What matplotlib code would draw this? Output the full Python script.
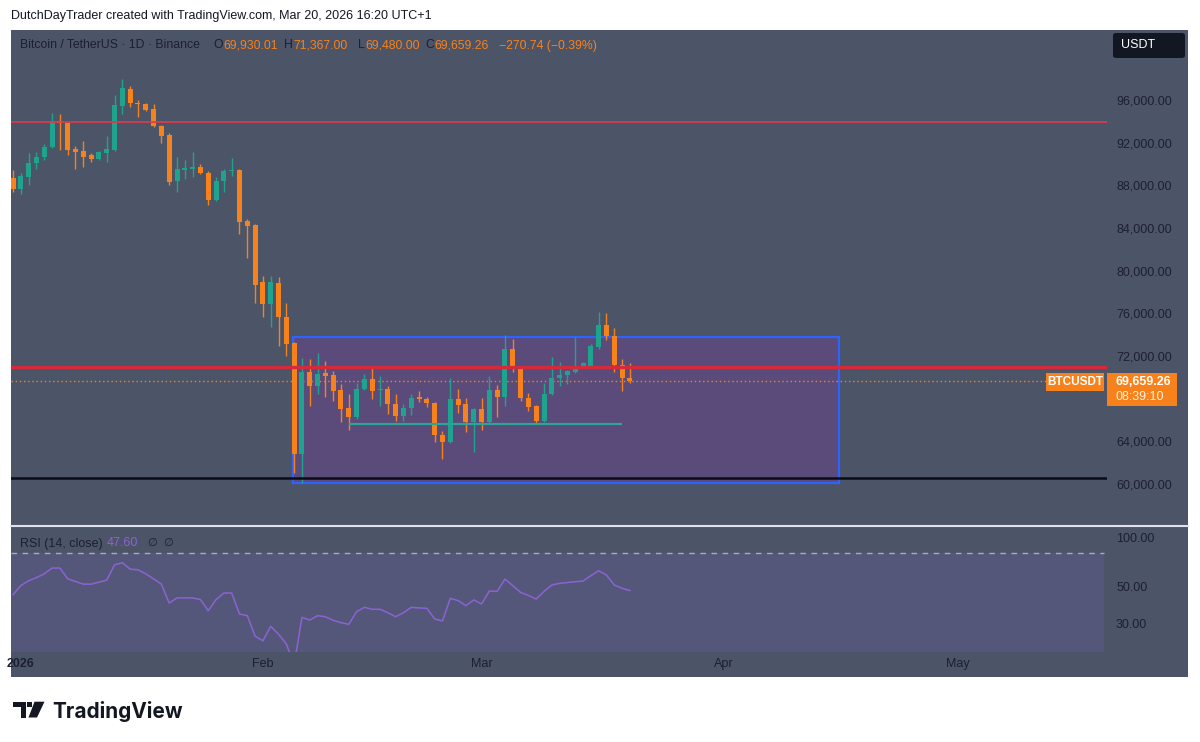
import numpy as np
import pandas as pd
import matplotlib
matplotlib.use("Agg")
import matplotlib.pyplot as plt
import matplotlib.dates as mdates
from matplotlib.patches import Rectangle, Polygon, FancyBboxPatch
from matplotlib.lines import Line2D
from matplotlib.ticker import FixedLocator, NullLocator, NullFormatter

# BTCUSDT daily candles, 31 Dec 2025 -> 20 Mar 2026
start_date = "2025-12-31"
opens = [88700, 87700, 88800, 90100, 90700, 91600, 94000, 93800, 91400, 91200,
         90800, 90500, 91000, 91300, 95400, 97000, 95700, 95600, 95200, 93600,
         92700, 88400, 89400, 89500, 89700, 89200, 86600, 88400, 89300, 89400,
         84700, 84300, 78900, 76900, 78800, 75700, 73200, 62800, 70500, 69200,
         70400, 70200, 68800, 67100, 66300, 68900, 69800, 68800, 68900, 67500,
         66400, 67100, 68200, 68000, 67600, 64600, 63900, 68000, 67500, 65800,
         67000, 65800, 68800, 68200, 72700, 70800, 68100, 67300, 65900, 68400,
         69900, 70200, 70500, 71000, 71100, 72800, 74900, 73900, 71200, 69930.01]
highs = [89400, 89200, 91000, 91100, 91900, 94800, 94700, 93900, 91700, 92200,
         91000, 91200, 92600, 96500, 98000, 97300, 96000, 95700, 95600, 93700,
         92900, 90700, 90400, 91100, 90000, 89300, 88800, 89500, 90600, 89500,
         84800, 84400, 79500, 79500, 79400, 77000, 73300, 71800, 71700, 72300,
         71500, 70600, 69400, 68400, 69500, 70300, 71000, 70100, 69200, 68400,
         67500, 68400, 68700, 68200, 67700, 65000, 69900, 68900, 68100, 67100,
         68100, 70100, 69300, 74000, 73600, 70900, 68500, 67400, 69500, 71900,
         71400, 70700, 73800, 71400, 73100, 76100, 76000, 74600, 71700, 71367.00]
lows = [87400, 87200, 88000, 89500, 90400, 91500, 91300, 90800, 89500, 89700,
        90200, 90400, 90200, 91200, 94700, 95300, 94400, 95000, 93500, 92000,
        88000, 87400, 88600, 88800, 89100, 86200, 86500, 87400, 88900, 83400,
        81200, 77000, 75700, 74700, 72900, 72000, 61000, 60100, 67300, 68400,
        68200, 67800, 65800, 65100, 66100, 68800, 68000, 67300, 66600, 65900,
        65900, 66500, 67700, 67200, 63900, 62300, 63800, 66700, 64900, 63000,
        65100, 65600, 66300, 67300, 70500, 67800, 66800, 65700, 65800, 68300,
        69200, 69400, 70400, 70900, 71000, 72700, 73500, 70500, 68700, 69480.00]
closes = [87700, 88900, 90100, 90700, 91600, 94000, 93800, 91300, 91100, 90700,
          90500, 91100, 91400, 95500, 97100, 95700, 95600, 95100, 93600, 92600,
          88300, 89500, 89600, 89700, 89200, 86600, 88400, 89300, 89400, 84600,
          84200, 78700, 76900, 78900, 75700, 73100, 62800, 70500, 69200, 70300,
          70100, 68700, 67000, 66300, 68900, 69800, 68700, 68900, 67500, 66400,
          67100, 68100, 68000, 67600, 64600, 63900, 68000, 67400, 65800, 67000,
          65800, 68800, 68200, 72700, 70800, 68100, 67200, 65900, 68400, 69900,
          70200, 70600, 71000, 71300, 72900, 74900, 73900, 71200, 69900, 69659.26]

# RSI(14, close)
rsi = [45, 51, 54.5, 57, 60, 65, 65, 56, 54, 52,
       52, 53.5, 55, 68, 70, 64, 63.5, 60, 56, 52,
       40, 43, 43, 43, 42, 36, 42, 46, 46, 34.4,
       33.6, 25.3, 23.7, 29, 26, 22.7, 17, 32.8, 31.6, 33.6,
       33.1, 31.5, 30.5, 29.8, 35.5, 37.7, 36.7, 36.7, 35, 33.1,
       35, 37.7, 37.4, 37.2, 32.1, 31.2, 42.7, 41.4, 38.6, 41.8,
       39.5, 47.3, 47, 55.8, 51, 46.4, 44.5, 42.3, 47, 51.4,
       52.6, 53.2, 53.8, 54.3, 58.5, 62.7, 59, 51.4, 49.1, 47.6]

price_ticks = [60000, 64000, 72000, 76000, 80000, 84000, 88000, 92000, 96000]
rsi_ticks = [30, 50, 100]
month_ticks = ["2026-01-01", "2026-02-01", "2026-03-01", "2026-04-01", "2026-05-01"]
month_labels = ["2026", "Feb", "Mar", "Apr", "May"]

resistance_top = 93950
resistance_mid = 71000
support_low = 60600
range_start, range_end = "2026-02-05", "2026-04-16"
range_top, range_bottom = 73800, 60100
floor_start, floor_end, floor_level = "2026-02-12", "2026-03-19", 65600
last_price = 69659.26

BG = "#4c5468"
UP = "#1fa38e"
DOWN = "#f7821b"
TXT = "#1c2030"
FONT = ["Liberation Sans", "DejaVu Sans"]
plt.rcParams["font.family"] = FONT

W, H = 1200, 742


def fx(px):
    return px / W


def fy(py):
    return 1 - py / H


fig = plt.figure(figsize=(12, 7.42), dpi=100, facecolor="white")
fig.add_artist(Rectangle((fx(11), fy(677)), fx(1188) - fx(11), fy(30) - fy(677),
                         transform=fig.transFigure, facecolor=BG, edgecolor="none", zorder=-5))
fig.add_artist(Line2D([fx(11), fx(1188)], [fy(526), fy(526)], color="#dfe2ea", lw=1.5))

dates = pd.date_range(start_date, periods=len(closes), freq="D")
x = mdates.date2num(dates)
x0 = mdates.date2num(pd.Timestamp(start_date))
xlim = (x0 - 0.26, x0 + 140.1)

o = np.array(opens)
c = np.array(closes)
colors = [UP if cc >= oo else DOWN for oo, cc in zip(o, c)]

# main price pane
ax = fig.add_axes([fx(11), fy(525), fx(1107) - fx(11), fy(30) - fy(525)])
ax.set_facecolor("none")
ax.set_xlim(*xlim)
ax.set_ylim(56156, 102562)

rs = mdates.date2num(pd.Timestamp(range_start)) - 0.1
re_ = mdates.date2num(pd.Timestamp(range_end)) - 0.25
ax.add_patch(Rectangle((rs, range_bottom), re_ - rs, range_top - range_bottom,
                       facecolor="#5b4b7a", edgecolor="#2f63ff", lw=1.6, zorder=1))

ax.vlines(x, lows, highs, colors=colors, lw=1, zorder=3)
ax.bar(x, np.maximum(np.abs(c - o), 90), bottom=np.minimum(o, c), width=0.64,
       color=colors, edgecolor="none", zorder=3)

ax.axhline(resistance_top, color="#e0394d", lw=1.2, zorder=4)
ax.axhline(resistance_mid, color="#d32a3c", lw=2.4, zorder=4)
ax.axhline(support_low, color="#0b0d16", lw=1.8, zorder=4)
fs = mdates.date2num(pd.Timestamp(floor_start))
fe = mdates.date2num(pd.Timestamp(floor_end))
ax.hlines(floor_level, fs, fe, color="#2aa596", lw=1.6, zorder=4)
ax.axhline(last_price, xmax=(1046 - 11) / 1096, color=DOWN, lw=1, ls=(0, (1, 2)), zorder=2)

ax.yaxis.tick_right()
ax.yaxis.set_major_locator(FixedLocator(price_ticks))
ax.set_yticklabels([f"{t:,.2f}" for t in price_ticks])
ax.tick_params(axis="y", length=0, pad=6.5, labelsize=9, labelcolor=TXT)
ax.tick_params(axis="x", bottom=False, labelbottom=False)
for s in ax.spines.values():
    s.set_visible(False)

# RSI pane
ar = fig.add_axes([fx(11), fy(652), fx(1107) - fx(11), fy(527) - fy(652)])
ar.set_facecolor("none")
ar.set_yscale("log")
ar.set_xlim(*xlim)
ar.set_ylim(20.3, 114.9)
ar.axhspan(20, 80, xmax=(1104 - 11) / 1096, color="#55577a", lw=0, zorder=1)
ar.axhline(80, xmax=(1104 - 11) / 1096, color="#a9adba", lw=1, ls=(0, (4, 4)), zorder=2)
ar.plot(x, rsi, color="#8a63d2", lw=1.1, zorder=3)
ar.yaxis.tick_right()
ar.yaxis.set_major_locator(FixedLocator(rsi_ticks))
ar.yaxis.set_minor_locator(NullLocator())
ar.yaxis.set_minor_formatter(NullFormatter())
ar.set_yticklabels([f"{t:.2f}" for t in rsi_ticks])
ar.tick_params(axis="y", length=0, pad=6.5, labelsize=9, labelcolor=TXT)
ar.set_xticks(mdates.date2num(pd.to_datetime(month_ticks)))
ar.set_xticklabels(month_labels)
ar.tick_params(axis="x", length=0, pad=4, labelsize=9, labelcolor=TXT)
ar.get_xticklabels()[0].set_fontweight("bold")
for s in ar.spines.values():
    s.set_visible(False)

# header texts
fig.text(fx(11), fy(16), "DutchDayTrader created with TradingView.com, Mar 20, 2026 16:20 UTC+1",
         fontsize=9, color="#131722", va="center")
fig.text(fx(20), fy(45.5), "Bitcoin / TetherUS · 1D · Binance", fontsize=8.8, color=TXT, va="center")
ohlc = [(223, "O", "69,930.01"), (293, "H", "71,367.00"), (365, "L", "69,480.00"),
        (434, "C", "69,659.26")]
for px, letter, val in ohlc:
    fig.text(fx(px), fy(45.5), letter, fontsize=8.8, color=TXT, va="center", ha="right")
    fig.text(fx(px + 0.5), fy(45.5), val, fontsize=8.8, color=DOWN, va="center")
fig.text(fx(499), fy(45.5), "\u2212270.74 (\u22120.39%)", fontsize=8.8, color=DOWN, va="center")

fig.add_artist(FancyBboxPatch((fx(1113), fy(58)), fx(1185) - fx(1113), fy(33) - fy(58),
                              boxstyle="round,pad=0,rounding_size=0.003", transform=fig.transFigure,
                              facecolor="#131722", edgecolor="none"))
fig.text(fx(1121), fy(45.5), "USDT", fontsize=9, color="white", va="center")

fig.add_artist(Rectangle((fx(1046), fy(391)), fx(1104) - fx(1046), fy(373) - fy(391),
                         transform=fig.transFigure, facecolor=DOWN, edgecolor="none"))
fig.text(fx(1075), fy(382), "BTCUSDT", fontsize=8.5, color="white", weight="bold",
         ha="center", va="center")
fig.add_artist(Rectangle((fx(1107), fy(406)), fx(1177) - fx(1107), fy(373) - fy(406),
                         transform=fig.transFigure, facecolor=DOWN, edgecolor="none"))
fig.text(fx(1116), fy(381.5), f"{last_price:,.2f}", fontsize=9, color="white", weight="bold",
         va="center")
fig.text(fx(1116), fy(397), "08:39:10", fontsize=9, color="#fff1e0", va="center")

fig.text(fx(20), fy(543.5), "RSI (14, close)", fontsize=9, color=TXT, va="center")
fig.text(fx(107), fy(543.5), f"{rsi[-1]:.2f}", fontsize=9, color="#8a63d2", va="center")
fig.text(fx(147), fy(543.5), "\u2205", fontsize=8, color=TXT, va="center", family=["DejaVu Sans"])
fig.text(fx(163), fy(543.5), "\u2205", fontsize=8, color=TXT, va="center", family=["DejaVu Sans"])

# TradingView logo
LOGO = "#131722"
fig.add_artist(Rectangle((fx(12.7), fy(706.7)), fx(26) - fx(12.7), fy(701.7) - fy(706.7),
                         transform=fig.transFigure, facecolor=LOGO, edgecolor="none"))
fig.add_artist(Rectangle((fx(20.5), fy(717.5)), fx(26) - fx(20.5), fy(701.7) - fy(717.5),
                         transform=fig.transFigure, facecolor=LOGO, edgecolor="none"))
fig.add_artist(Polygon([(fx(34.5), fy(701.7)), (fx(44.5), fy(701.7)), (fx(37), fy(717.5)),
                        (fx(28.5), fy(717.5))], closed=True, transform=fig.transFigure,
                       facecolor=LOGO, edgecolor="none"))
fig.add_artist(Rectangle((fx(27), fy(707)), fx(32) - fx(27), fy(702) - fy(707),
                         transform=fig.transFigure, facecolor=LOGO, edgecolor="none"))
fig.text(fx(52), fy(711), "TradingView", fontsize=15, color=LOGO, weight="bold",
         va="center", family=["Inter", "DejaVu Sans"])

fig.savefig("out.png", dpi=100, facecolor="white")
